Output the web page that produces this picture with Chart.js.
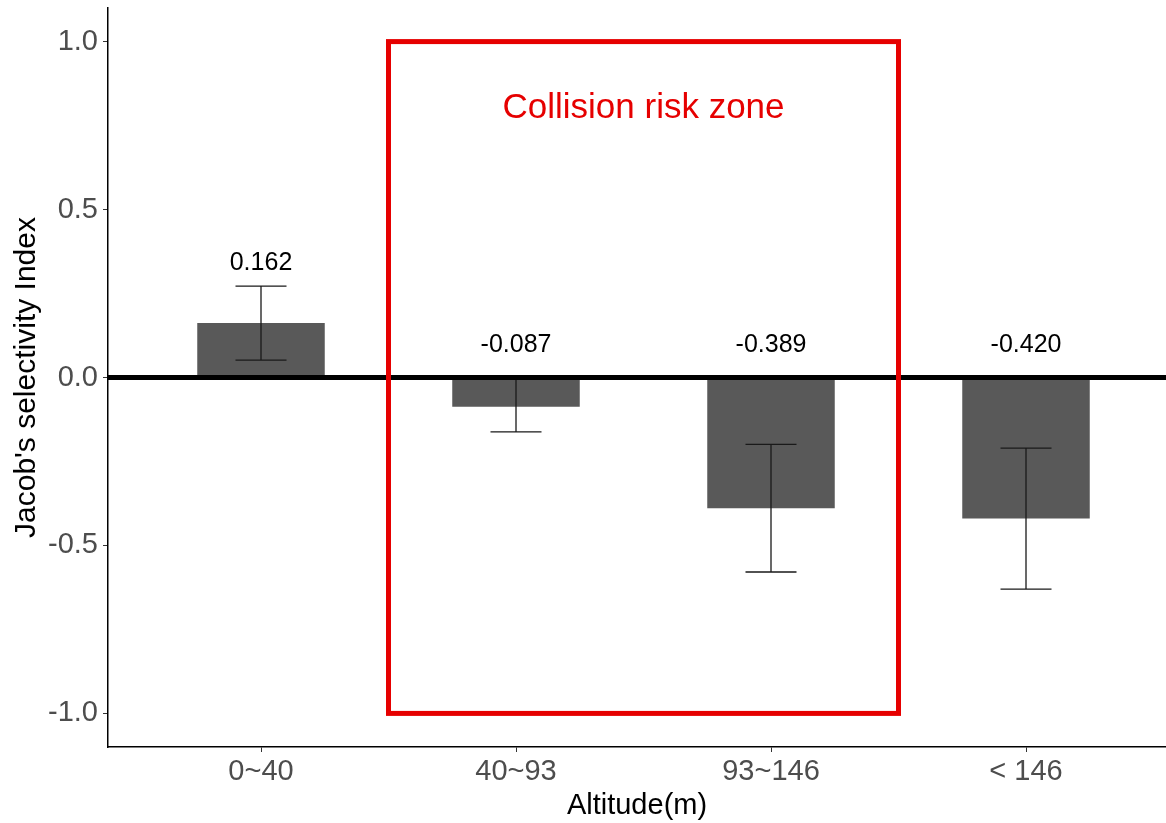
<!DOCTYPE html>
<html>
<head>
<meta charset="utf-8">
<script src="https://cdn.jsdelivr.net/npm/chart.js@4"></script>
<style>
  html, body { margin: 0; padding: 0; background: #fff; }
  #wrap { width: 1166px; height: 823px; }
</style>
</head>
<body>
<div id="wrap"><canvas id="chart"></canvas></div>
<script>
// datos
const categories = ['0~40', '40~93', '93~146', '< 146'];
const values = [0.162, -0.087, -0.389, -0.420];
const errLow = [0.052, -0.162, -0.579, -0.630];
const errHigh = [0.272, -0.004, -0.199, -0.210];
const valueLabels = ['0.162', '-0.087', '-0.389', '-0.420'];
const labelY = [0.34, 0.095, 0.095, 0.095];
const yTicks = [-1.0, -0.5, 0.0, 0.5, 1.0];
const zoneText = 'Collision risk zone';
const zoneFrom = 0.5, zoneTo = 2.5;   // zona de riesgo, en unidades de categoría
const zoneLow = -1.0, zoneHigh = 1.0;

const FONT = '"Liberation Sans", Arial, sans-serif';

// dibuja barras de error, línea cero, rectángulo rojo y etiquetas
const extras = {
    id: 'extras',
    afterDatasetsDraw(chart) {
        const ctx = chart.ctx;
        const x = chart.scales.x, y = chart.scales.y;
        const area = chart.chartArea;
        ctx.save();

        // barras de error
        ctx.strokeStyle = '#1a1a1a';
        ctx.lineWidth = 1.3;
        values.forEach((v, i) => {
            const cx = x.getPixelForValue(i);
            const half = x.getPixelForValue(i + 0.1) - cx;
            const yl = y.getPixelForValue(errLow[i]);
            const yh = y.getPixelForValue(errHigh[i]);
            ctx.beginPath();
            ctx.moveTo(cx, yl); ctx.lineTo(cx, yh);
            ctx.moveTo(cx - half, yl); ctx.lineTo(cx + half, yl);
            ctx.moveTo(cx - half, yh); ctx.lineTo(cx + half, yh);
            ctx.stroke();
        });

        // línea en cero
        const y0 = y.getPixelForValue(0);
        ctx.strokeStyle = '#000';
        ctx.lineWidth = 5;
        ctx.beginPath();
        ctx.moveTo(area.left, y0); ctx.lineTo(area.right, y0);
        ctx.stroke();

        // etiquetas de valor
        ctx.fillStyle = '#000';
        ctx.font = '25px ' + FONT;
        ctx.textAlign = 'center';
        ctx.textBaseline = 'middle';
        valueLabels.forEach((t, i) => {
            ctx.fillText(t, x.getPixelForValue(i), y.getPixelForValue(labelY[i]));
        });

        // zona de riesgo
        const rx0 = x.getPixelForValue(zoneFrom), rx1 = x.getPixelForValue(zoneTo);
        const ry0 = y.getPixelForValue(zoneHigh), ry1 = y.getPixelForValue(zoneLow);
        ctx.strokeStyle = '#e60000';
        ctx.lineWidth = 5;
        ctx.strokeRect(rx0, ry0, rx1 - rx0, ry1 - ry0);
        ctx.fillStyle = '#e60000';
        ctx.font = '35px ' + FONT;
        ctx.fillText(zoneText, (rx0 + rx1) / 2, y.getPixelForValue(0.8));

        ctx.restore();
    }
};

const ctx = document.getElementById('chart').getContext('2d');
new Chart(ctx, {
    type: 'bar',
    data: {
        datasets: [{
            data: values.map((v, i) => ({ x: i, y: v })),
            backgroundColor: '#595959',
            borderWidth: 0,
            barPercentage: 1,
            categoryPercentage: 0.5
        }]
    },
    options: {
        responsive: true,
        maintainAspectRatio: false,
        animation: false,
        layout: { padding: { top: 8, right: 0, left: 0, bottom: 0 } },
        plugins: {
            legend: { display: false },
            tooltip: { enabled: false }
        },
        scales: {
            x: {
                type: 'linear',
                offset: false,
                min: -0.6,
                max: 3.549,
                afterBuildTicks: scale => {
                    scale.ticks = categories.map((c, i) => ({ value: i }));
                },
                afterFit: scale => {
                    scale.height = 76;
                    scale.paddingLeft = 0;
                    scale.paddingRight = 0;
                },
                grid: {
                    offset: false,
                    drawOnChartArea: false,
                    tickLength: 5,
                    color: '#333'
                },
                border: { display: true, color: '#000', width: 1.5 },
                ticks: {
                    autoSkip: false,
                    maxRotation: 0,
                    padding: 3,
                    color: '#4d4d4d',
                    font: { family: FONT, size: 29 },
                    callback: v => categories[v]
                },
                title: {
                    display: true,
                    text: 'Altitude(m)',
                    color: '#000',
                    font: { family: FONT, size: 29 },
                    padding: { top: 0, bottom: 0 }
                }
            },
            y: {
                min: -1.1,
                max: 1.1,
                afterBuildTicks: scale => {
                    scale.ticks = yTicks.map(v => ({ value: v }));
                },
                afterFit: scale => {
                    scale.width = 108;
                    scale.paddingTop = 0;
                    scale.paddingBottom = 0;
                },
                grid: {
                    drawOnChartArea: false,
                    tickLength: 5,
                    color: '#333'
                },
                border: { display: true, color: '#000', width: 1.5 },
                ticks: {
                    padding: 5,
                    color: '#4d4d4d',
                    font: { family: FONT, size: 29 },
                    callback: v => v.toFixed(1)
                },
                title: {
                    display: true,
                    text: "Jacob's selectivity Index",
                    color: '#000',
                    font: { family: FONT, size: 30 },
                    padding: { top: 9, bottom: 0 }
                }
            }
        }
    },
    plugins: [extras]
});
</script>
</body>
</html>
